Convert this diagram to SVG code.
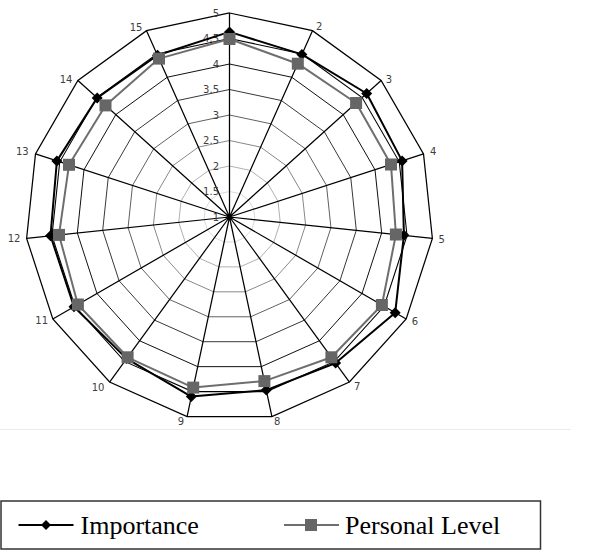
<svg xmlns="http://www.w3.org/2000/svg" xmlns:xlink="http://www.w3.org/1999/xlink" width="600" height="551" viewBox="0 0 600 551">
<style>
.lbl{font-family:"DejaVu Sans",Verdana,sans-serif;font-size:10px;fill:#404040}
.ax{text-anchor:middle}
.rv{text-anchor:end}
.grid{fill:none;stroke:#000;stroke-width:1.25;vector-effect:non-scaling-stroke}
.leg{font-family:"Liberation Serif","Times New Roman",serif;font-size:26px;fill:#000}
</style>
<defs>
<polygon id="ring" points="0,-204 82.97,-186.36 151.6,-136.5 194.02,-63.04 202.88,21.32 176.67,102 119.91,165.04 42.41,199.54 -42.41,199.54 -119.91,165.04 -176.67,102 -202.88,21.32 -194.02,-63.04 -151.6,-136.5 -82.97,-186.36"/>
<marker id="dia" markerUnits="userSpaceOnUse" markerWidth="12" markerHeight="12" refX="6" refY="6" viewBox="0 0 12 12" overflow="visible">
<polygon points="6,0.5 11.5,6 6,11.5 0.5,6" fill="#000"/>
</marker>
<marker id="sq" markerUnits="userSpaceOnUse" markerWidth="12" markerHeight="12" refX="6" refY="6" viewBox="0 0 12 12" overflow="visible">
<rect x="0" y="0" width="12" height="12" fill="#666666"/>
</marker>
</defs>
<rect width="600" height="551" fill="#fff"/>
<g id="grid" transform="translate(229.5,217)">
<use xlink:href="#ring" class="grid" transform="scale(0.125)"/>
<use xlink:href="#ring" class="grid" transform="scale(0.25)"/>
<use xlink:href="#ring" class="grid" transform="scale(0.375)"/>
<use xlink:href="#ring" class="grid" transform="scale(0.5)"/>
<use xlink:href="#ring" class="grid" transform="scale(0.625)"/>
<use xlink:href="#ring" class="grid" transform="scale(0.75)"/>
<use xlink:href="#ring" class="grid" transform="scale(0.875)"/>
<use xlink:href="#ring" class="grid"/>
<path class="grid" d="M0,0L0,-204M0,0L82.97,-186.36M0,0L151.6,-136.5M0,0L194.02,-63.04M0,0L202.88,21.32M0,0L176.67,102M0,0L119.91,165.04M0,0L42.41,199.54M0,0L-42.41,199.54M0,0L-119.91,165.04M0,0L-176.67,102M0,0L-202.88,21.32M0,0L-194.02,-63.04M0,0L-151.6,-136.5M0,0L-82.97,-186.36"/>
</g>
<g id="scale-labels" class="lbl rv">
<text x="219" y="16.5">5</text>
<text x="219" y="42">4.5</text>
<text x="219" y="67.5">4</text>
<text x="219" y="93">3.5</text>
<text x="219" y="118.5">3</text>
<text x="219" y="144">2.5</text>
<text x="219" y="169.5">2</text>
<text x="219" y="195">1.5</text>
<text x="219" y="220.5">1</text>
</g>
<g id="axis-labels" class="lbl ax">
<text x="319.3" y="30.2">2</text>
<text x="389" y="82.8">3</text>
<text x="433.3" y="155.2">4</text>
<text x="441.7" y="242.5">5</text>
<text x="415" y="324.5">6</text>
<text x="357.3" y="390.2">7</text>
<text x="277.3" y="424.5">8</text>
<text x="181" y="424.5">9</text>
<text x="98" y="390.5">10</text>
<text x="41.7" y="324.2">11</text>
<text x="14" y="241.8">12</text>
<text x="22.3" y="154.5">13</text>
<text x="66" y="82.5">14</text>
<text x="136" y="30.5">15</text>
</g>
<g id="series-importance">
<polygon fill="none" stroke="#000" stroke-width="2" stroke-linejoin="round" marker-start="url(#dia)" marker-mid="url(#dia)" points="229.5,31.9 301.9,54.4 366.7,93.5 402.1,160.9 403.9,235.3 395.2,312.7 335.6,363 266.3,390.1 191.3,396.6 126.6,358.6 74,306.8 50.5,235.8 56.9,160.9 97.2,97.9 157.5,55.3"/>
</g>
<g id="series-personal">
<polygon fill="none" stroke="#6e6e6e" stroke-width="2" stroke-linejoin="round" marker-start="url(#sq)" marker-mid="url(#sq)" points="229.5,39 297.8,63.7 356.1,103 391,164.5 395.9,234.5 381.9,305 331.4,357.3 264.4,381.1 193.2,387.6 127.6,357.3 77.9,304.5 59,234.9 69,164.8 105.5,105.4 159,58.6"/>
</g>
<line x1="0" y1="429.5" x2="571" y2="429.5" stroke="#ebebeb" stroke-width="1"/>
<g id="legend">
<rect x="1" y="501" width="539.5" height="48" fill="#fff" stroke="#333" stroke-width="1.5"/>
<line x1="18.5" y1="525" x2="73.5" y2="525" stroke="#000" stroke-width="2"/>
<polygon points="46,520 51,525 46,530 41,525" fill="#000"/>
<text class="leg" x="80.5" y="533.5">Importance</text>
<line x1="284" y1="525" x2="339" y2="525" stroke="#6e6e6e" stroke-width="2"/>
<rect x="305" y="519" width="12" height="12" fill="#666666"/>
<text class="leg" x="345" y="533.5">Personal Level</text>
</g>
</svg>
